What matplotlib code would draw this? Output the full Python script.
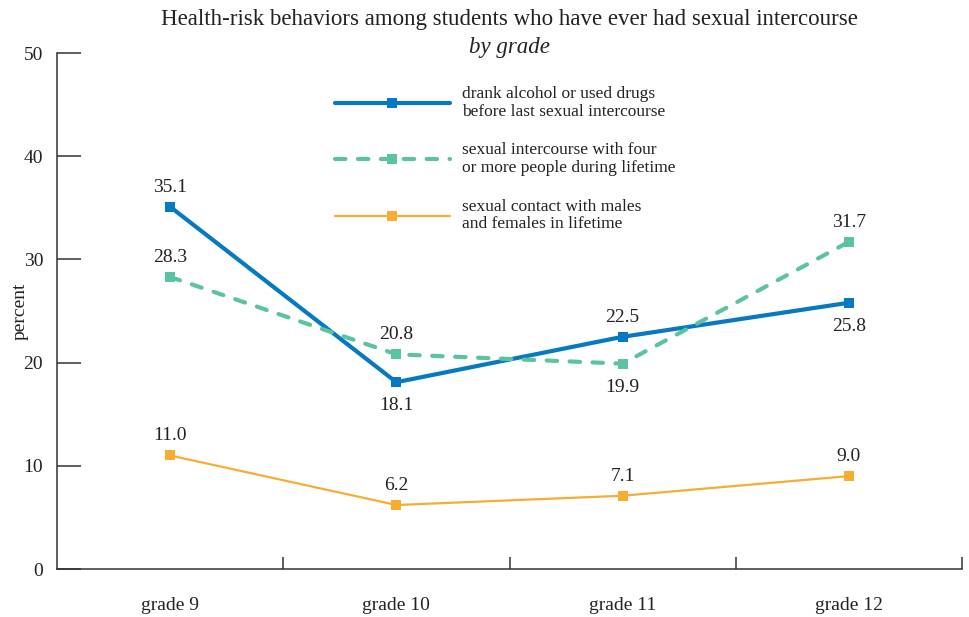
import matplotlib.pyplot as plt
from matplotlib.ticker import FixedLocator

plt.rcParams['font.family'] = ['Liberation Serif', 'DejaVu Serif']

grades = ['grade 9', 'grade 10', 'grade 11', 'grade 12']
alcohol_drugs = [35.1, 18.1, 22.5, 25.8]
four_or_more = [28.3, 20.8, 19.9, 31.7]
males_females = [11.0, 6.2, 7.1, 9.0]

labels = ['drank alcohol or used drugs\nbefore last sexual intercourse',
          'sexual intercourse with four\nor more people during lifetime',
          'sexual contact with males\nand females in lifetime']
colors = ['#0679c3', '#5cc3a2', '#f6ad32']
# whether each value label sits above (True) or below (False) its point
above = [[True, False, True, False],
         [True, True, False, True],
         [True, True, True, True]]

TEXT = '#222222'
AXC = '#333333'

fig = plt.figure(figsize=(9.69, 6.17), dpi=100)
ax = fig.add_axes([57 / 969, 48 / 617, 905 / 969, 516 / 617])

x = list(range(len(grades)))
series = [alcohol_drugs, four_or_more, males_females]
widths = [3.0, 3.0, 1.6]
handles = []
for i, (vals, c, lw, lab) in enumerate(zip(series, colors, widths, labels)):
    kw = dict(color=c, lw=lw, marker='s', markersize=7.5, markeredgewidth=0,
              label=lab, solid_capstyle='round')
    if i == 1:
        kw.update(linestyle=(0, (2.5, 3.0)), dash_capstyle='round')
    h, = ax.plot(x, vals, **kw)
    handles.append(h)
    for xi, v, up in zip(x, vals, above[i]):
        ax.annotate(f'{v:.1f}', (xi, v), xytext=(0, 8 if up else -11),
                    textcoords='offset points', ha='center',
                    va='bottom' if up else 'top', fontsize=14, color=TEXT)

ax.set_xlim(-0.5, 3.5)
ax.set_ylim(0, 50)

for s in ['top', 'right']:
    ax.spines[s].set_visible(False)
for s in ['left', 'bottom']:
    ax.spines[s].set_color(AXC)
    ax.spines[s].set_linewidth(1.1)

ax.set_yticks([0, 10, 20, 30, 40, 50])
ax.tick_params(axis='y', direction='in', length=17, width=1.1, color=AXC,
               pad=10, labelsize=14, labelcolor=TEXT)

# ticks at category boundaries, labels at category centres
ax.xaxis.set_major_locator(FixedLocator([0.5, 1.5, 2.5, 3.5]))
ax.xaxis.set_minor_locator(FixedLocator(x))
ax.set_xticklabels([], minor=False)
ax.set_xticklabels(grades, minor=True)
ax.tick_params(axis='x', which='minor', length=0, pad=20, labelsize=14,
               labelcolor=TEXT)
ax.tick_params(axis='x', which='major', direction='in', length=9, width=1.1,
               color=AXC)

ax.set_ylabel('percent', fontsize=14, color=TEXT, va='center', ha='center')
ax.yaxis.set_label_coords(-37 / 905, 0.5)

fig.text(509.5 / 969, 1 - 19 / 617, 'Health-risk behaviors among students who have ever had sexual intercourse',
         ha='center', va='center', fontsize=16.5, color=TEXT)
fig.text(509.5 / 969, 1 - 47 / 617, 'by grade', ha='center', va='center',
         fontsize=16.5, style='italic', color=TEXT)

leg = ax.legend(handles=handles, loc='upper left',
                bbox_to_anchor=(271 / 905, (564 - 74) / 516),
                frameon=False, handlelength=6.6, numpoints=1,
                fontsize=12.5, labelspacing=1.3, handletextpad=0.7,
                borderaxespad=0)
for t in leg.get_texts():
    t.set_color(TEXT)
    t.set_linespacing(1.15)

fig.savefig('out.png', dpi=100)
